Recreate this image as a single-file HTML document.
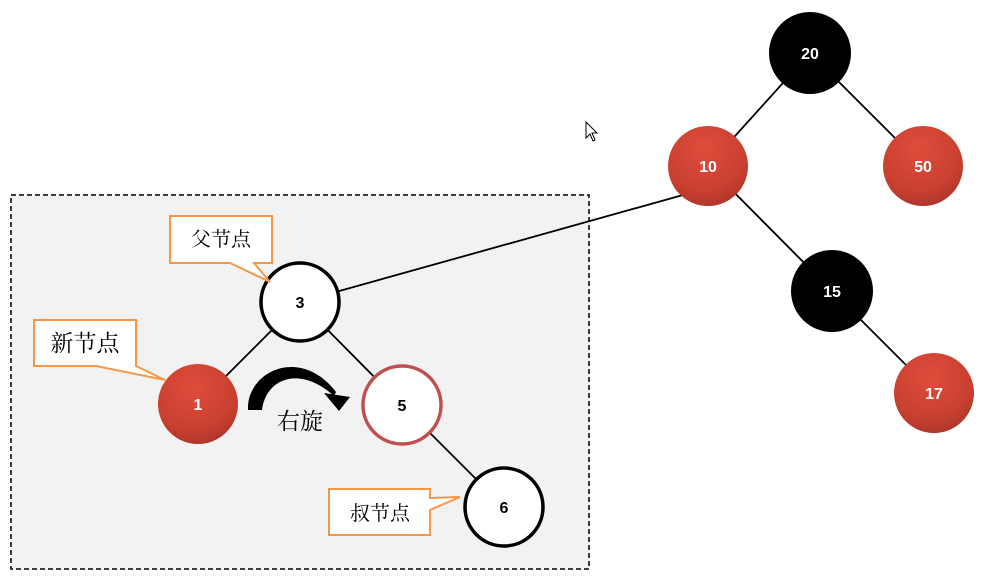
<!DOCTYPE html>
<html><head><meta charset="utf-8"><style>
body{margin:0;background:#fff;width:981px;height:578px;overflow:hidden}
svg{display:block}
.n{font-family:"Liberation Sans",sans-serif;font-weight:bold;font-size:16px;text-anchor:middle}
.c{font-family:"Liberation Serif","Noto Serif CJK SC",serif;font-size:20px;text-anchor:middle}
</style></head><body>
<svg width="981" height="578" viewBox="0 0 981 578">
<defs>
<radialGradient id="r" cx="0.45" cy="0.3" r="0.75">
<stop offset="0" stop-color="#e04c3c"/><stop offset="0.7" stop-color="#c8402f"/><stop offset="1" stop-color="#a8342a"/>
</radialGradient>
</defs>
<rect x="11" y="195" width="578" height="374" fill="#f2f2f2" stroke="#000" stroke-width="1.5" stroke-dasharray="5,3"/>
<g stroke="#000" stroke-width="1.8">
<line x1="810" y1="53" x2="708" y2="166"/>
<line x1="810" y1="53" x2="923" y2="166"/>
<line x1="708" y1="166" x2="832" y2="291"/>
<line x1="832" y1="291" x2="934" y2="393"/>
<line x1="708" y1="188" x2="300" y2="302"/>
<line x1="300" y1="302" x2="198" y2="404"/>
<line x1="300" y1="302" x2="402" y2="405"/>
<line x1="402" y1="405" x2="504" y2="507"/>
</g>
<circle cx="810" cy="53" r="41" fill="#000"/>
<circle cx="708" cy="166" r="40" fill="url(#r)"/>
<circle cx="923" cy="166" r="40" fill="url(#r)"/>
<circle cx="832" cy="291" r="41" fill="#000"/>
<circle cx="934" cy="393" r="40" fill="url(#r)"/>
<circle cx="300" cy="302" r="39" fill="#fff" stroke="#000" stroke-width="3.5"/>
<circle cx="198" cy="404" r="40" fill="url(#r)"/>
<circle cx="402" cy="405" r="39" fill="#fff" stroke="#c0504d" stroke-width="3.5"/>
<circle cx="504" cy="507" r="39" fill="#fff" stroke="#000" stroke-width="3.5"/>
<g class="n">
<text x="810" y="59" fill="#fff">20</text>
<text x="708" y="172" fill="#fff">10</text>
<text x="923" y="172" fill="#fff">50</text>
<text x="832" y="297" fill="#fff">15</text>
<text x="934" y="399" fill="#fff">17</text>
<text x="300" y="308">3</text>
<text x="198" y="410" fill="#fff">1</text>
<text x="402" y="411">5</text>
<text x="504" y="513">6</text>
</g>
<!-- rotate arrow -->
<path d="M248 410 C246 372 300 345 336 392 L334 396 C300 365 266 378 262 410 Z" fill="#000"/>
<path d="M324 393 L350 397 L339 411 Z" fill="#000"/>
<text class="c" x="300" y="429" style="font-size:23px">右旋</text>
<!-- callouts -->
<g fill="#fff" stroke="#f79646" stroke-width="2">
<path d="M170 216 H272 V263 H254 L270 282 L230 263 H170 Z"/>
<path d="M34 320 H136 V366 H136 L165 380 L96 366 H34 Z"/>
<path d="M329 489 H430 V498 L460 497 L430 510 V535 H329 Z"/>
</g>
<text class="c" x="221" y="246">父节点</text>
<text class="c" x="85" y="351" style="font-size:23px">新节点</text>
<text class="c" x="380" y="520">叔节点</text>
<!-- cursor -->
<path d="M586 122 L586 138 L590 134 L593 141 L595 140 L592 133 L597 133 Z" fill="#fff" stroke="#000" stroke-width="1"/>
</svg>
</body></html>
